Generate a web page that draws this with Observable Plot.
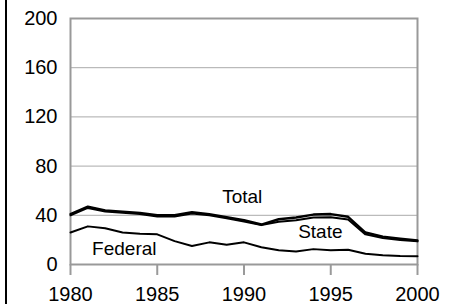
<!DOCTYPE html>
<html><head><meta charset="utf-8">
<script src="https://cdn.jsdelivr.net/npm/d3@7"></script>
<script src="https://cdn.jsdelivr.net/npm/@observablehq/plot@0.6"></script>
<style>
html,body{margin:0;padding:0;background:#fff;}
#wrap{position:relative;width:458px;height:304px;overflow:hidden;}
#bar{position:absolute;left:5px;top:0;width:2px;height:304px;background:#000;}
svg{font-family:"Liberation Sans",Arial,sans-serif;}
</style></head>
<body><div id="wrap"><div id="bar"></div></div>
<script>
const years = [1980,1981,1982,1983,1984,1985,1986,1987,1988,1989,1990,1991,1992,1993,1994,1995,1996,1997,1998,1999,2000];
const total = [41,47,44,43,42,40,40,42.5,41,38.5,36,32.5,36.8,38.2,40.6,41,38.8,26,22.7,21,19.5];
const state = [40,46,43,42,41,39,39,41.5,40,37.5,35,32,34.8,36,38.3,38.5,36.5,24.5,21.5,20,18.8];
const federal = [26,31,29.5,26,25,24.5,19,15,18,16,18,14,11.5,10.5,12.5,11.5,12,8.7,7.6,7,6.8];
const yTicks = [0,40,80,120,160,200];
const xTicks = [1980,1985,1990,1995,2000];
const labelNames = ["Total","State","Federal"];
const labelYears = [1989.9,1994.4,1983.1];
const labelValues = [55.3,26.3,13];

const rows = k => years.map((yr,i)=>({year:yr, value:k[i]}));
const labels = labelNames.map((n,i)=>({name:n, year:labelYears[i], value:labelValues[i]}));

const chart = Plot.plot({
  width:458, height:304,
  marginLeft:70, marginRight:41, marginTop:18, marginBottom:40,
  style:{fontSize:"20px", fontFamily:"Liberation Sans, Arial, sans-serif", background:"transparent"},
  x:{domain:[1980,2000]},
  y:{domain:[0,200]},
  marks:[
    Plot.gridY(yTicks,{stroke:"#aaa", strokeOpacity:1, strokeWidth:1}),
    Plot.axisY(yTicks,{tickSize:0, tickPadding:13, fill:"#000", fontSize:20, label:null, tickFormat:d=>String(d)}),
    Plot.axisX(xTicks,{tickSize:11, tickPadding:11, stroke:"#9a9a9a", strokeWidth:2, fill:"#000", fontSize:20, label:null, tickFormat:d=>String(d)}),
    Plot.frame({stroke:"#999", strokeWidth:2}),
    Plot.line(rows(federal),{x:"year", y:"value", stroke:"#000", strokeWidth:2}),
    Plot.line(rows(state),{x:"year", y:"value", stroke:"#000", strokeWidth:2}),
    Plot.line(rows(total),{x:"year", y:"value", stroke:"#000", strokeWidth:2.4}),
    Plot.text(labels,{x:"year", y:"value", text:"name", fill:"#000", fontSize:19})
  ]
});
document.getElementById("wrap").appendChild(chart);
chart.style.position="absolute"; chart.style.left="0"; chart.style.top="0";
</script>
</body></html>
